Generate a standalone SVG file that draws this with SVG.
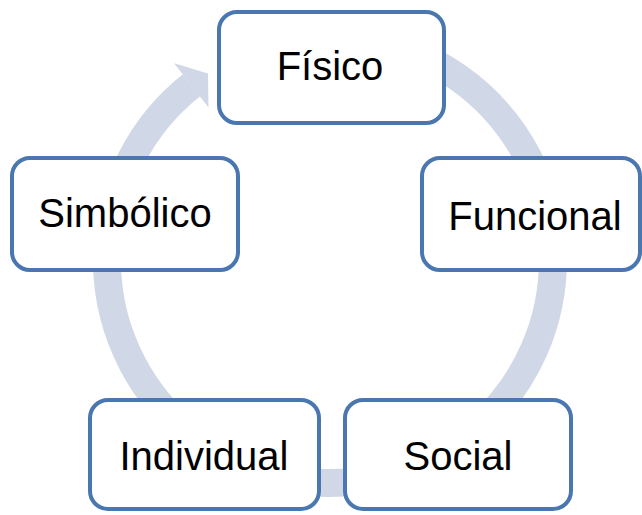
<svg xmlns="http://www.w3.org/2000/svg" width="642" height="515" viewBox="0 0 642 515">
  <style>
    .node rect { fill: #ffffff; stroke: #4A77B0; stroke-width: 4; }
    .node text { font-family: "Liberation Sans", Arial, sans-serif; font-size: 40px; fill: #000000; text-anchor: middle; }
    .ring { fill: none; stroke: #D0D8E8; stroke-width: 28; }
    .head { fill: #D0D8E8; stroke: none; }
  </style>
  <rect width="642" height="515" fill="#ffffff"/>
  <g id="connectors">
    <path class="ring" d="M 368.7 40.4 A 223 223 0 1 1 191.5 85.2"/>
    <polygon class="head" points="174.1,63.3 208,73.5 208.5,107.5"/>
  </g>
  <g id="node-fisico" class="node">
    <rect x="219" y="12" width="225" height="111" rx="18" ry="18"/>
    <text x="330" y="80">Físico</text>
  </g>
  <g id="node-funcional" class="node">
    <rect x="422" y="158" width="218" height="112" rx="18" ry="18"/>
    <text x="535" y="230">Funcional</text>
  </g>
  <g id="node-social" class="node">
    <rect x="345" y="400" width="226" height="109" rx="18" ry="18"/>
    <text x="458" y="470">Social</text>
  </g>
  <g id="node-individual" class="node">
    <rect x="90" y="400" width="229" height="109" rx="18" ry="18"/>
    <text x="204" y="470">Individual</text>
  </g>
  <g id="node-simbolico" class="node">
    <rect x="12" y="158" width="226" height="112" rx="18" ry="18"/>
    <text x="125" y="227">Simbólico</text>
  </g>
</svg>
